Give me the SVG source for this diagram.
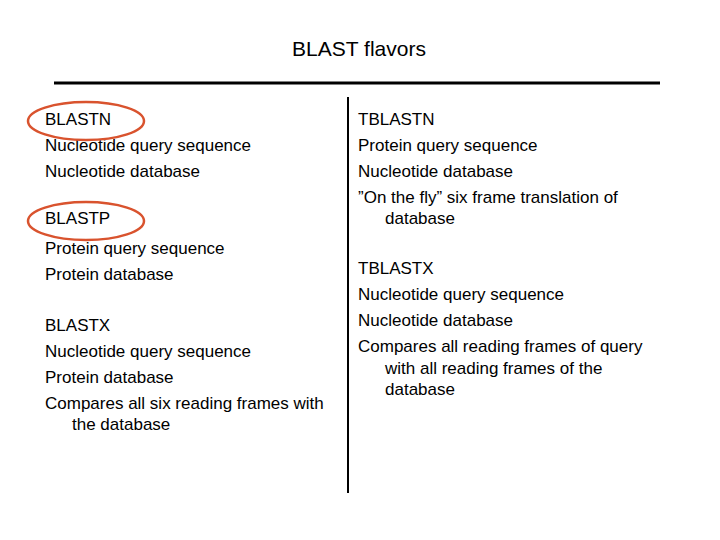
<svg xmlns="http://www.w3.org/2000/svg" width="720" height="540" viewBox="0 0 720 540">
<style>text{font-family:"Liberation Sans",Arial,sans-serif;font-size:17px;fill:#000}.t{font-size:21px}.e{fill:none;stroke:#d9532e;stroke-width:2.5}</style>
<rect width="720" height="540" fill="#fff"/>
<text class="t" x="359" y="56" text-anchor="middle">BLAST flavors</text>
<g id="rules"><line x1="54" y1="83" x2="660" y2="83" stroke="#000" stroke-width="3"/><line x1="348" y1="97" x2="348" y2="493" stroke="#000" stroke-width="2"/></g>
<g id="left">
<text x="45" y="125">BLASTN</text><text x="45" y="151">Nucleotide query sequence</text><text x="45" y="177">Nucleotide database</text>
<text x="45" y="224">BLASTP</text><text x="45" y="254">Protein query sequence</text><text x="45" y="280">Protein database</text>
<text x="45" y="331">BLASTX</text><text x="45" y="357">Nucleotide query sequence</text><text x="45" y="383">Protein database</text><text x="45" y="409">Compares all six reading frames with</text><text x="72" y="430">the database</text>
</g>
<g id="right">
<text x="358" y="125">TBLASTN</text><text x="358" y="151">Protein query sequence</text><text x="358" y="177">Nucleotide database</text><text x="358" y="203">”On the fly” six frame translation of</text><text x="385" y="224">database</text>
<text x="358" y="274">TBLASTX</text><text x="358" y="300">Nucleotide query sequence</text><text x="358" y="326">Nucleotide database</text><text x="358" y="352">Compares all reading frames of query</text><text x="385" y="374">with all reading frames of the</text><text x="385" y="395">database</text>
</g>
<g id="marks"><ellipse class="e" cx="86" cy="121" rx="58" ry="19"/><ellipse class="e" cx="86" cy="221" rx="58" ry="19"/></g>
</svg>
